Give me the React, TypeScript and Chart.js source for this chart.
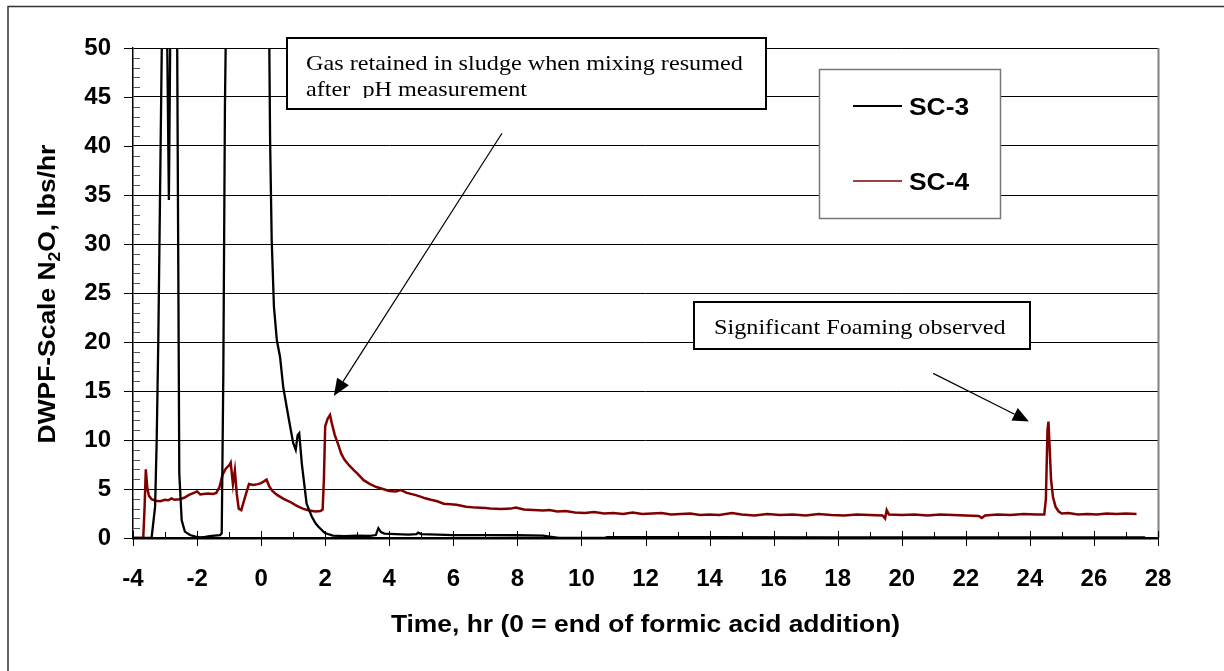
import React, { useEffect, useRef } from 'react';
import { Chart, registerables } from 'chart.js';

Chart.register(...registerables);

// ---------- DATA ----------
const sc3Time = [
  -4.0, -3.42, -3.31, -3.26, -3.21, -3.16, -3.1, -3.04, -2.97, -2.93, -2.88, -2.84, -2.78, -2.68, -2.62,
  -2.585, -2.555, -2.48, -2.38, -2.22, -2.05, -1.91, -1.75, -1.6, -1.45, -1.28, -1.23, -1.18, -1.13, -1.1,
  -0.9, -0.4, 0.0, 0.2, 0.256, 0.28, 0.33, 0.4, 0.49, 0.59, 0.69, 0.85, 1.0, 1.08, 1.14, 1.19, 1.27, 1.42,
  1.58, 1.7, 1.79, 1.99, 2.24, 2.6, 3.0, 3.4, 3.58, 3.66, 3.74, 3.85, 4.2, 4.6, 4.85, 4.9, 5.0, 5.5, 6.0,
  7.0, 8.0, 8.8, 9.0, 9.3, 10.7, 10.8, 14.0, 18.0, 22.0, 25.0, 27.6,
];
const sc3Value = [
  0, 0, 3.2, 10, 20.2, 33.8, 50.5, 72, 68, 50, 34.5, 50, 70, 66, 50,
  27, 6.6, 1.8, 0.65, 0.3, 0.15, 0.07, 0.12, 0.2, 0.25, 0.3, 0.48, 16.8, 44, 52,
  85, 95, 80, 60, 50, 40.6, 30.4, 23.6, 20.2, 18.5, 15.4, 12.4, 9.7, 9.0, 10.5, 10.7, 7.6, 3.5,
  2.2, 1.5, 1.15, 0.5, 0.25, 0.2, 0.25, 0.22, 0.3, 1.0, 0.6, 0.45, 0.4, 0.35, 0.4, 0.55, 0.4, 0.35, 0.3,
  0.3, 0.28, 0.25, 0.15, 0.02, 0.0, 0.08, 0.08, 0.07, 0.06, 0.06, 0.05,
];

const sc4Time = [
  -4.0, -3.68, -3.64, -3.6, -3.55, -3.5, -3.42, -3.3, -3.15, -3.0, -2.9, -2.8, -2.7, -2.55, -2.4, -2.25,
  -2.1, -2.0, -1.9, -1.8, -1.65, -1.5, -1.4, -1.3, -1.2, -1.1, -1.0, -0.95, -0.88, -0.82, -0.76, -0.7,
  -0.62, -0.5, -0.38, -0.25, -0.1, 0.0, 0.1, 0.17, 0.25, 0.35, 0.5, 0.7, 0.9, 1.1, 1.3, 1.5, 1.7, 1.85,
  1.92, 1.96, 2.0, 2.08, 2.15, 2.2, 2.3, 2.4, 2.5, 2.6, 2.75, 2.9, 3.0, 3.2, 3.4, 3.6, 3.8, 4.0, 4.2,
  4.35, 4.55, 4.8, 5.0, 5.12, 5.3, 5.5, 5.7, 5.9, 6.1, 6.4, 6.7, 7.0, 7.15, 7.5, 7.8, 7.95, 8.2, 8.5,
  8.8, 9.0, 9.25, 9.5, 9.8, 10.1, 10.4, 10.7, 11.0, 11.3, 11.6, 11.9, 12.2, 12.5, 12.8, 13.1, 13.4, 13.7,
  14.0, 14.3, 14.7, 15.0, 15.4, 15.8, 16.2, 16.6, 17.0, 17.4, 17.8, 18.2, 18.6, 19.0, 19.4, 19.48, 19.53,
  19.6, 20.0, 20.4, 20.8, 21.2, 21.6, 22.0, 22.4, 22.5, 22.6, 23.0, 23.4, 23.8, 24.2, 24.45, 24.5, 24.55,
  24.58, 24.62, 24.66, 24.72, 24.8, 24.9, 25.0, 25.2, 25.5, 25.8, 26.1, 26.4, 26.7, 27.0, 27.33,
];
const sc4Value = [
  0, 0, 3.0, 7.0, 5.0, 4.3, 3.95, 3.8, 3.75, 3.9, 3.85, 4.05, 3.9, 3.95, 4.1, 4.4,
  4.6, 4.75, 4.45, 4.5, 4.55, 4.5, 4.6, 5.2, 6.5, 7.1, 7.4, 7.7, 5.5, 6.9, 4.5, 3.0,
  2.85, 4.2, 5.5, 5.4, 5.5, 5.6, 5.8, 5.95, 5.3, 4.8, 4.4, 4.0, 3.7, 3.3, 3.0, 2.8, 2.7, 2.75,
  2.9, 6.0, 11.4, 12.2, 12.55, 11.8, 10.5, 9.6, 8.6, 8.0, 7.4, 6.9, 6.6, 5.9, 5.5, 5.2, 5.0, 4.8, 4.75,
  4.9, 4.6, 4.4, 4.2, 4.05, 3.9, 3.75, 3.5, 3.45, 3.4, 3.2, 3.1, 3.05, 3.0, 2.95, 3.0, 3.1, 2.9, 2.85,
  2.8, 2.85, 2.7, 2.75, 2.6, 2.55, 2.65, 2.5, 2.55, 2.45, 2.6, 2.45, 2.5, 2.55, 2.4, 2.45, 2.5, 2.35,
  2.4, 2.35, 2.55, 2.4, 2.3, 2.45, 2.35, 2.4, 2.3, 2.45, 2.35, 2.3, 2.4, 2.35, 2.3, 2.0, 2.85,
  2.4, 2.35, 2.4, 2.3, 2.4, 2.35, 2.3, 2.25, 2.05, 2.3, 2.4, 2.35, 2.45, 2.4, 2.4, 4.0, 11.0,
  11.87, 9.0, 6.0, 4.2, 3.2, 2.7, 2.5, 2.55, 2.4, 2.45, 2.4, 2.5, 2.45, 2.5, 2.45,
];

const seriesLabels = ['SC-3', 'SC-4'];
const seriesColors = ['#000000', '#800000'];

const xMin = -4;
const xMax = 28;
const xStep = 2;
const yMin = 0;
const yMax = 50;
const yStep = 5;

const xTitle = 'Time, hr (0 = end of formic acid addition)';
const yTitleParts = ['DWPF-Scale N', '2', 'O, lbs/hr'];
const noteGas = ['Gas retained in sludge when mixing resumed', 'after  pH measurement'];
const noteFoam = 'Significant Foaming observed';
// arrow endpoints in data coordinates [time, value]
const arrowGas = [[7.52, 41.3], [2.27, 14.5]];
const arrowFoam = [[20.98, 16.8], [23.97, 11.9]];

// ---------- STYLE ----------
const SANS = "'Liberation Sans', Arial, sans-serif";
const SERIF = "'Liberation Serif', 'Times New Roman', serif";
const STRETCH = 1.1;

function drawText(ctx, text, x, y, font, align = 'left', baseline = 'alphabetic') {
  ctx.save();
  ctx.font = font;
  ctx.textAlign = align;
  ctx.textBaseline = baseline;
  ctx.translate(x, y);
  ctx.scale(STRETCH, 1);
  ctx.fillStyle = '#000';
  ctx.fillText(text, 0, 0);
  ctx.restore();
}

function drawArrow(ctx, x1, y1, x2, y2, headLen, headHalf) {
  const ang = Math.atan2(y2 - y1, x2 - x1);
  const bx = x2 - headLen * Math.cos(ang);
  const by = y2 - headLen * Math.sin(ang);
  ctx.save();
  ctx.strokeStyle = '#000';
  ctx.fillStyle = '#000';
  ctx.lineWidth = 1.2;
  ctx.beginPath();
  ctx.moveTo(x1, y1);
  ctx.lineTo(bx, by);
  ctx.stroke();
  ctx.beginPath();
  ctx.moveTo(x2, y2);
  ctx.lineTo(bx + headHalf * Math.sin(ang), by - headHalf * Math.cos(ang));
  ctx.lineTo(bx - headHalf * Math.sin(ang), by + headHalf * Math.cos(ang));
  ctx.closePath();
  ctx.fill();
  ctx.restore();
}

const overlayPlugin = {
  id: 'overlay',
  afterDraw(chart) {
    const ctx = chart.ctx;
    const { left, right, top, bottom } = chart.chartArea;
    const xs = chart.scales.x;
    const ys = chart.scales.y;

    ctx.save();
    // outer frame (top and left)
    ctx.strokeStyle = '#333';
    ctx.lineWidth = 1.5;
    ctx.beginPath();
    ctx.moveTo(8, 680);
    ctx.lineTo(8, 6.5);
    ctx.lineTo(1240, 6.5);
    ctx.stroke();

    // right border of plot
    ctx.strokeStyle = '#808080';
    ctx.lineWidth = 2;
    ctx.beginPath();
    ctx.moveTo(Math.round(right) + 0.5, top);
    ctx.lineTo(Math.round(right) + 0.5, bottom);
    ctx.stroke();

    // y ticks
    ctx.lineWidth = 1;
    for (let v = yMin; v <= yMax; v += 1) {
      const py = Math.round(ys.getPixelForValue(v)) + 0.5;
      ctx.strokeStyle = v % yStep === 0 ? '#000' : '#555';
      ctx.beginPath();
      if (v % yStep === 0) {
        ctx.moveTo(left - 9, py);
        ctx.lineTo(left, py);
      } else {
        ctx.moveTo(left, py);
        ctx.lineTo(left + 7, py);
      }
      ctx.stroke();
    }
    // x ticks
    for (let t = xMin; t <= xMax; t += 1) {
      const px = Math.round(xs.getPixelForValue(t)) + 0.5;
      ctx.strokeStyle = '#000';
      ctx.lineWidth = 1;
      ctx.beginPath();
      if ((t - xMin) % xStep === 0) {
        ctx.moveTo(px, bottom - 7);
        ctx.lineTo(px, bottom + 8);
      } else {
        ctx.moveTo(px, bottom - 6);
        ctx.lineTo(px, bottom);
      }
      ctx.stroke();
    }
    ctx.restore();

    // annotation box: gas
    ctx.save();
    ctx.fillStyle = '#fff';
    ctx.fillRect(287, 38, 479, 71);
    ctx.strokeStyle = '#000';
    ctx.lineWidth = 2;
    ctx.strokeRect(287, 38, 479, 71);
    ctx.beginPath();
    ctx.rect(288, 39, 477, 59);
    ctx.clip();
    drawText(ctx, noteGas[0], 306, 70, `22px ${SERIF}`);
    drawText(ctx, noteGas[1], 306, 96, `22px ${SERIF}`);
    ctx.restore();

    // annotation box: foam
    ctx.save();
    ctx.fillStyle = '#fff';
    ctx.fillRect(694, 302, 336, 47);
    ctx.strokeStyle = '#000';
    ctx.lineWidth = 2;
    ctx.strokeRect(694, 302, 336, 47);
    drawText(ctx, noteFoam, 714, 334, `22px ${SERIF}`);
    ctx.restore();

    // arrows
    drawArrow(ctx,
      xs.getPixelForValue(arrowGas[0][0]), ys.getPixelForValue(arrowGas[0][1]),
      xs.getPixelForValue(arrowGas[1][0]), ys.getPixelForValue(arrowGas[1][1]), 17, 7);
    drawArrow(ctx,
      xs.getPixelForValue(arrowFoam[0][0]), ys.getPixelForValue(arrowFoam[0][1]),
      xs.getPixelForValue(arrowFoam[1][0]), ys.getPixelForValue(arrowFoam[1][1]), 16, 7);

    // legend
    ctx.save();
    ctx.fillStyle = '#fff';
    ctx.fillRect(819.5, 69.5, 181, 149);
    ctx.strokeStyle = '#777';
    ctx.lineWidth = 1.5;
    ctx.strokeRect(819.5, 69.5, 181, 149);
    const legendY = [106, 181];
    chart.data.datasets.forEach((ds, i) => {
      ctx.strokeStyle = ds.borderColor;
      ctx.lineWidth = i === 0 ? 2 : 1.6;
      ctx.beginPath();
      ctx.moveTo(853, legendY[i]);
      ctx.lineTo(902, legendY[i]);
      ctx.stroke();
      drawText(ctx, ds.label, 909, legendY[i] + 9, `bold 24px ${SANS}`);
    });
    ctx.restore();

    // x title
    drawText(ctx, xTitle, (left + right) / 2, 632, `bold 24px ${SANS}`, 'center');

    // y title (rotated, with subscript)
    ctx.save();
    ctx.translate(55, 294);
    ctx.rotate(-Math.PI / 2);
    ctx.scale(STRETCH, 1);
    ctx.fillStyle = '#000';
    ctx.textBaseline = 'alphabetic';
    ctx.textAlign = 'left';
    const fBig = `bold 24px ${SANS}`;
    const fSmall = `bold 16px ${SANS}`;
    ctx.font = fBig;
    const w0 = ctx.measureText(yTitleParts[0]).width;
    const w2 = ctx.measureText(yTitleParts[2]).width;
    ctx.font = fSmall;
    const w1 = ctx.measureText(yTitleParts[1]).width;
    const total = w0 + w1 + w2;
    let cx = -total / 2;
    ctx.font = fBig;
    ctx.fillText(yTitleParts[0], cx, 0);
    cx += w0;
    ctx.font = fSmall;
    ctx.fillText(yTitleParts[1], cx, 5);
    cx += w1;
    ctx.font = fBig;
    ctx.fillText(yTitleParts[2], cx, 0);
    ctx.restore();
  },
};

export default function App() {
  const canvasRef = useRef(null);

  useEffect(() => {
    document.body.style.margin = '0';
    const canvas = canvasRef.current;
    if (!canvas) return;

    const sc3 = sc3Time.map((t, i) => ({ x: t, y: sc3Value[i] }));
    const sc4 = sc4Time.map((t, i) => ({ x: t, y: sc4Value[i] }));

    const chart = new Chart(canvas, {
      type: 'line',
      data: {
        datasets: [
          {
            label: seriesLabels[0],
            data: sc3,
            borderColor: seriesColors[0],
            backgroundColor: seriesColors[0],
            borderWidth: 2.3,
            pointRadius: 0,
            tension: 0,
            fill: false,
          },
          {
            label: seriesLabels[1],
            data: sc4,
            borderColor: seriesColors[1],
            backgroundColor: seriesColors[1],
            borderWidth: 2.5,
            pointRadius: 0,
            tension: 0,
            fill: false,
          },
        ],
      },
      options: {
        responsive: false,
        animation: false,
        devicePixelRatio: 1,
        layout: { padding: { left: 0, top: 48, right: 66, bottom: 0 } },
        plugins: {
          legend: { display: false },
          tooltip: { enabled: false },
          title: { display: false },
        },
        scales: {
          x: {
            type: 'linear',
            min: xMin,
            max: xMax,
            afterFit: (s) => { s.height = 133; },
            ticks: {
              stepSize: xStep,
              color: '#000',
              font: { family: SANS, size: 24, weight: 'bold' },
              padding: 27,
              maxRotation: 0,
              autoSkip: false,
            },
            grid: { display: false, drawTicks: false },
            border: { display: true, color: '#000', width: 2.5 },
          },
          y: {
            type: 'linear',
            min: yMin,
            max: yMax,
            afterFit: (s) => { s.width = 133; },
            ticks: {
              stepSize: yStep,
              color: '#000',
              font: { family: SANS, size: 24, weight: 'bold' },
              padding: 22,
            },
            grid: { display: true, color: '#000', lineWidth: 1, drawTicks: false },
            border: { display: true, color: '#000', width: 1.5 },
          },
        },
      },
      plugins: [overlayPlugin],
    });

    return () => chart.destroy();
  }, []);

  return (
    <div style={{ width: 1224, height: 671, background: '#fff' }}>
      <canvas ref={canvasRef} width={1224} height={671} style={{ display: 'block' }} />
    </div>
  );
}
